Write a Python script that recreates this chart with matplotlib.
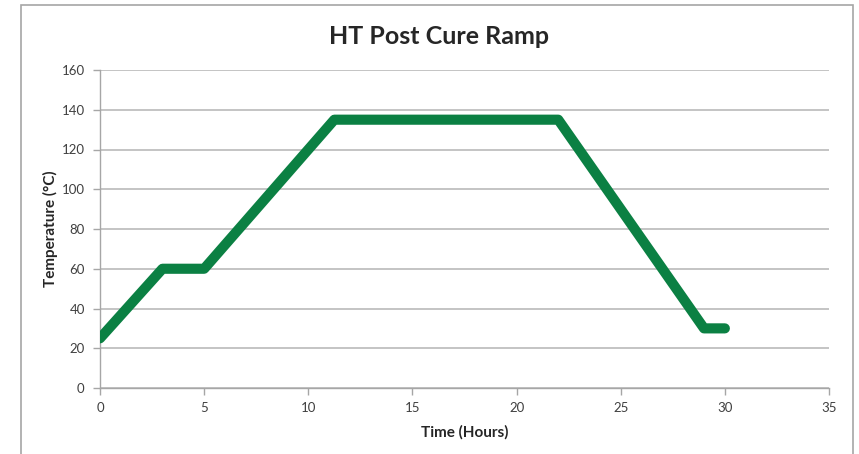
import matplotlib
matplotlib.use("Agg")
import matplotlib.pyplot as plt
from matplotlib.patches import Rectangle

plt.rcParams['font.family'] = ['Lato', 'DejaVu Sans']

# Cure profile (hours, deg C)
time_h = [0, 3, 5, 11.25, 22, 29, 30]
temp_c = [25, 60, 60, 135, 135, 30, 30]

x_ticks = [0, 5, 10, 15, 20, 25, 30, 35]
y_ticks = [0, 20, 40, 60, 80, 100, 120, 140, 160]

W, H = 859, 454
fig = plt.figure(figsize=(W / 100, H / 100), dpi=100)
ax = fig.add_axes([100 / W, 1 - 388 / H, (829 - 100) / W, (388 - 70) / H])

grid_col = '#bfbfbf'
axis_col = '#a6a6a6'

ax.plot(time_h, temp_c, color='#0b8043', lw=7.3,
        solid_capstyle='round', solid_joinstyle='round', zorder=3)

ax.set_xlim(0, 35)
ax.set_ylim(0, 160)
ax.set_xticks(x_ticks)
ax.set_yticks(y_ticks)
ax.yaxis.grid(True, color=grid_col, lw=1.3)
ax.set_axisbelow(True)

for s in ['top', 'right']:
    ax.spines[s].set_visible(False)
for s in ['left', 'bottom']:
    ax.spines[s].set_color(axis_col)
    ax.spines[s].set_linewidth(1.0)

ax.tick_params(axis='both', colors=axis_col, length=5, width=1.0,
               labelcolor='#404040', labelsize=9.5)
ax.tick_params(axis='y', pad=6)
ax.tick_params(axis='x', pad=5)

fig.text(465 / W, 1 - 432 / H, 'Time (Hours)', ha='center', va='center',
         fontsize=11, fontweight='bold', color='#262626')
fig.text(50 / W, 1 - 229 / H, 'Temperature (°C)', ha='center', va='center',
         rotation=90, fontsize=11, fontweight='bold', color='#262626')
fig.text(439 / W, 1 - 36 / H, 'HT Post Cure Ramp', ha='center', va='center',
         fontsize=18, fontweight='bold', color='#262626')

# chart area border
fig.patches.append(Rectangle((21 / W, -0.1), (853 - 21) / W, (H - 5) / H + 0.1,
                             transform=fig.transFigure, fill=False,
                             edgecolor='#a6a6a6', lw=1.2))

fig.savefig('out.png', dpi=100)
